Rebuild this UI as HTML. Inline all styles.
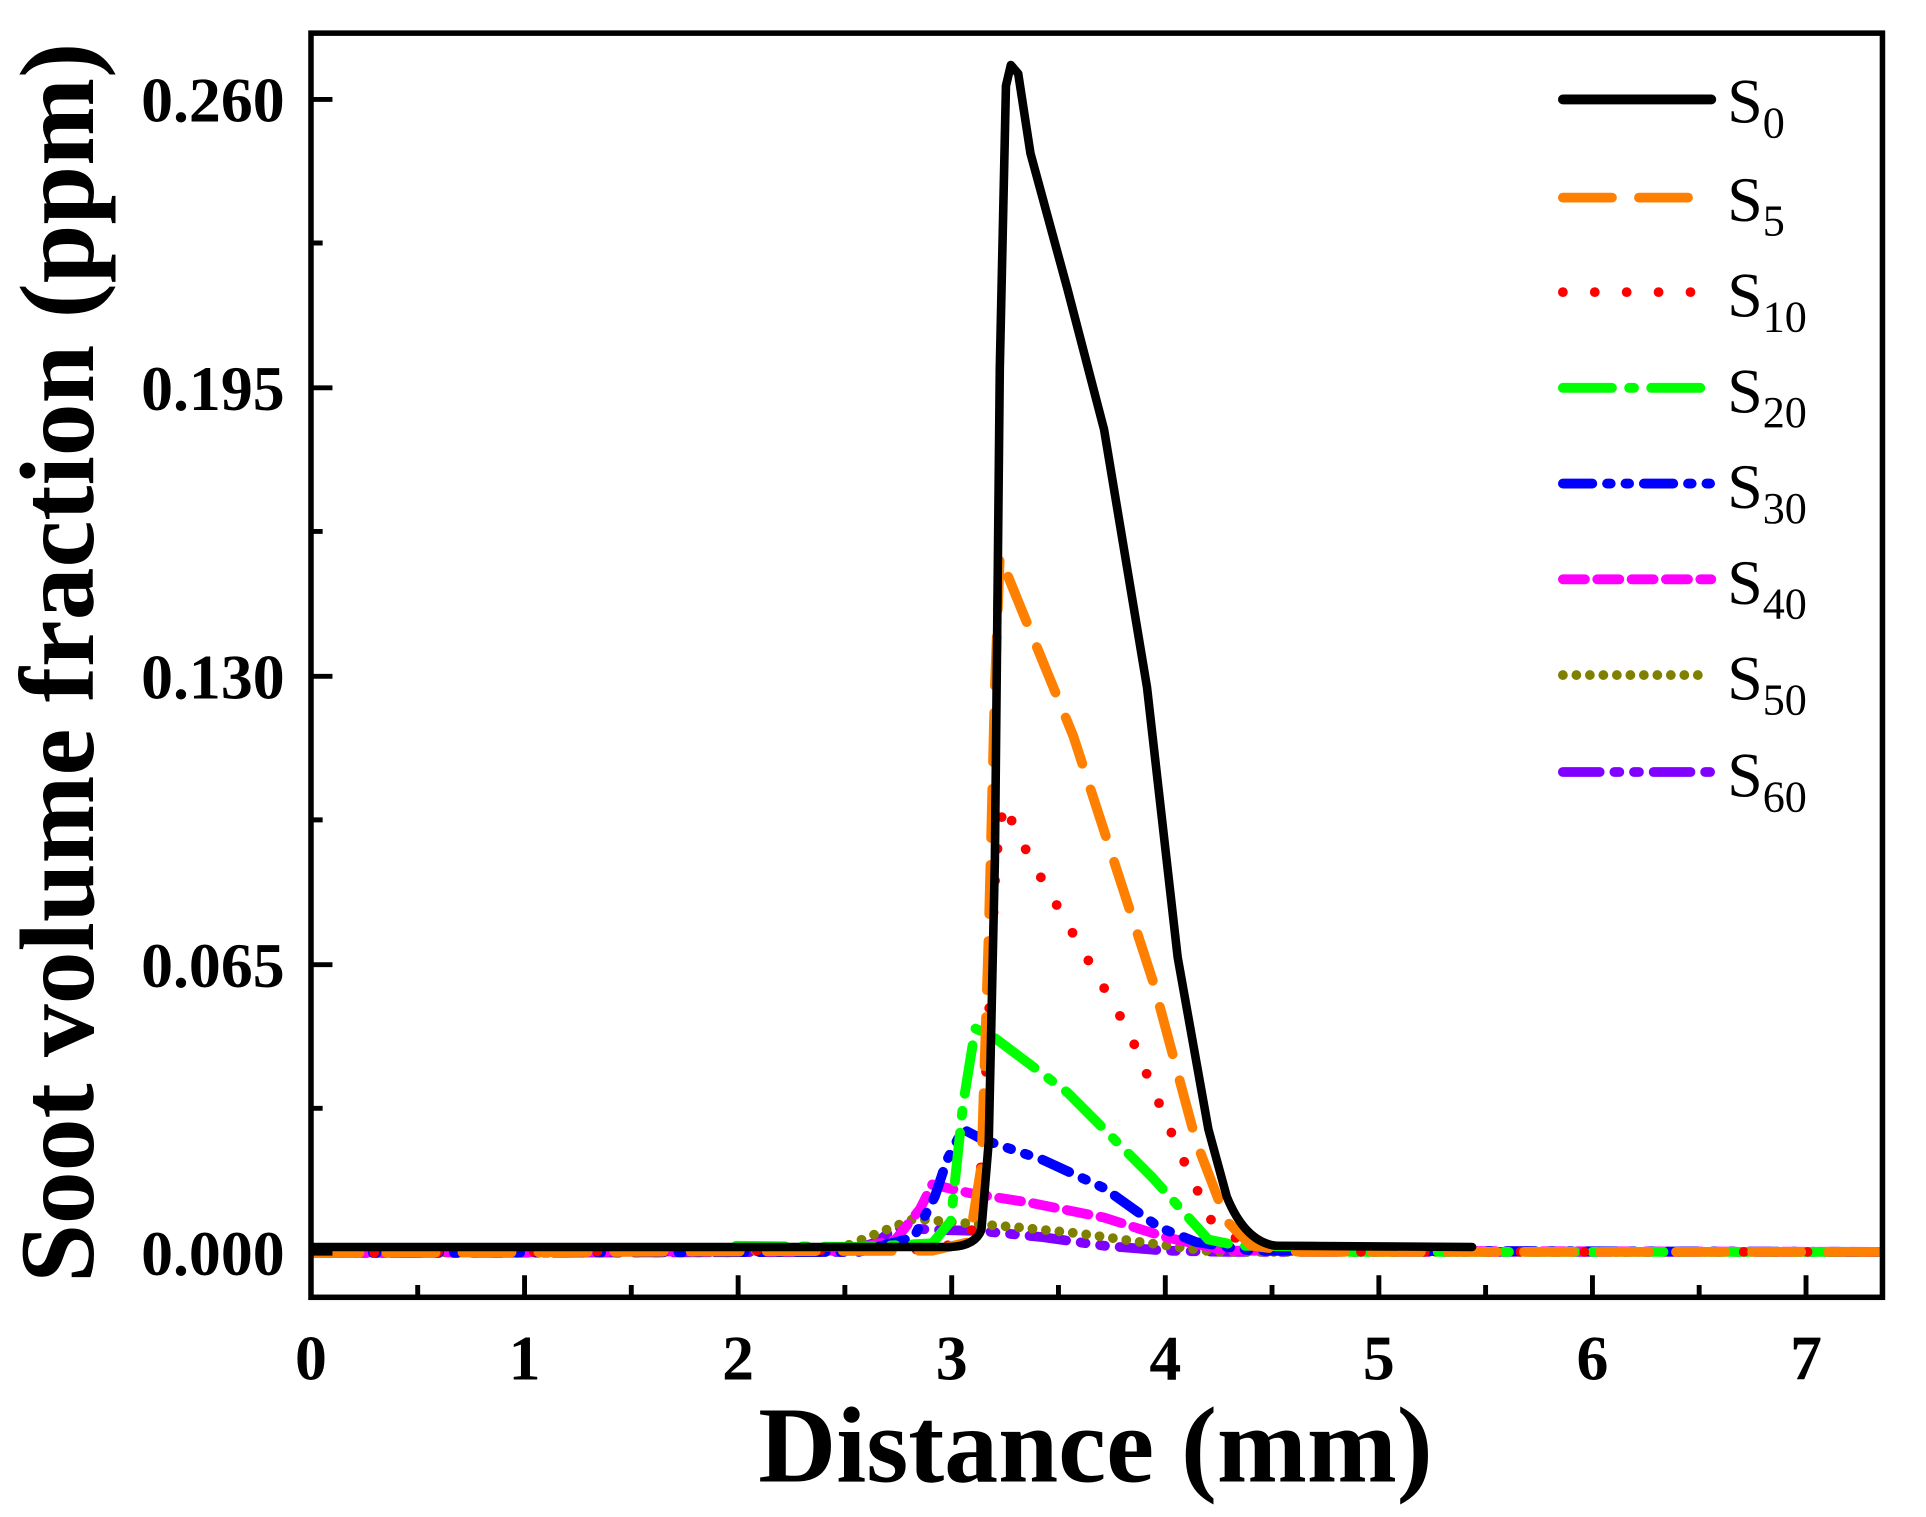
<!DOCTYPE html>
<html><head><meta charset="utf-8"><style>
html,body{margin:0;padding:0;background:#fff;}
svg{display:block;}
text{font-family:"Liberation Serif",serif;font-weight:bold;fill:#000;}
</style></head><body>
<svg width="1926" height="1517" viewBox="0 0 1570 1236" preserveAspectRatio="none" xmlns="http://www.w3.org/2000/svg">
<rect width="1570" height="1236" fill="#fff"/>
<defs><clipPath id="c"><rect x="253" y="27" width="1282" height="1032"/></clipPath></defs>
<g clip-path="url(#c)" fill="none" stroke-linecap="round" stroke-linejoin="round">
<path d="M253,1021 L690,1020 L715,1012 L730,1000 L760,1002 L800,1003 L850,1008 L900,1015 L950,1019 L1000,1020 L1535,1020" stroke="#8000ff" stroke-width="8" stroke-dasharray="30,12,4,12,4,12"/>
<path d="M253,1021 L680,1019 L715,1005 L745,993 L780,996 L830,1000 L880,1005 L930,1012 L990,1020 L1535,1020" stroke="#808000" stroke-width="8" stroke-dasharray="0,11"/>
<path d="M253,1021 L690,1019 L730,1010 L750,985 L760,965 L790,972 L840,980 L900,992 L950,1008 L1000,1019 L1535,1020" stroke="#ff00ff" stroke-width="8" stroke-dasharray="18,10"/>
<path d="M253,1021 L700,1020 L745,1008 L762,975 L772,945 L785,920 L800,928 L850,945 L900,968 L945,1000 L975,1012 L1020,1019 L1535,1020" stroke="#0000ff" stroke-width="8" stroke-dasharray="24,12,3,12,3,12"/>
<path d="M600,1015 L700,1016 L760,1013 L775,995 L785,900 L795,838 L810,845 L870,890 L940,960 L985,1010 L1010,1015 L1100,1016 M1100,1020 L1535,1020" stroke="#00ff00" stroke-width="8" stroke-dasharray="40,14,4,14"/>
<path d="M253,1021 L760,1018 L790,1010 L798,980 L805,850 L812,700 L818,655 L840,700 L880,770 L920,840 L960,935 L990,1000 L1020,1015 L1100,1020 L1535,1020" stroke="#ff0000" stroke-width="8" stroke-dasharray="0,26"/>
<path d="M253,1021 L760,1019 L790,1012 L800,950 L806,760 L811,560 L815,453 L830,490 L875,600 L940,800 L975,930 L1000,995 L1020,1015 L1060,1020 L1535,1020" stroke="#ff8000" stroke-width="8" stroke-dasharray="40,22"/>
<path d="M253,1016 L775,1016 Q795,1015 800,1002 L806,930 L811,700 L815,300 L820,70 L824,53 L830,60 L840,125 L870,235 L900,350 L935,560 L960,780 L985,920 L1000,975 Q1015,1012 1040,1015 L1200,1016" stroke="#000" stroke-width="7"/>
</g>
<rect x="253.5" y="27" width="1281" height="1030" fill="none" stroke="#000" stroke-width="4.5"/>
<g stroke="#000" stroke-width="4">
<path d="M253,1021h18M253,903h10M253,786h18M253,668h10M253,551h18M253,433h10M253,316h18M253,198h10M253,81h18"/>
<path d="M427.6,1057v-18M601.7,1057v-18M775.8,1057v-18M949.9,1057v-18M1124,1057v-18M1298.1,1057v-18M1472.2,1057v-18"/>
<path d="M340.5,1057v-10M514.6,1057v-10M688.7,1057v-10M862.8,1057v-10M1036.9,1057v-10M1211,1057v-10M1385.1,1057v-10"/>
</g>
<g font-size="52" text-anchor="end">
<text x="232" y="1039">0.000</text>
<text x="232" y="804">0.065</text>
<text x="232" y="569">0.130</text>
<text x="232" y="334">0.195</text>
<text x="232" y="99">0.260</text>
</g>
<g font-size="52" text-anchor="middle">
<text x="253.5" y="1124">0</text><text x="427.6" y="1124">1</text><text x="601.7" y="1124">2</text><text x="775.8" y="1124">3</text><text x="949.9" y="1124">4</text><text x="1124" y="1124">5</text><text x="1298.1" y="1124">6</text><text x="1472.2" y="1124">7</text>
</g>
<text x="893" y="1207" font-size="88" text-anchor="middle">Distance (mm)</text>
<text transform="translate(76,540) rotate(-90)" font-size="86" text-anchor="middle">Soot volume fraction (ppm)</text>
<g fill="none" stroke-width="8" stroke-linecap="round">
<path d="M1274,81H1395" stroke="#000"/>
<path d="M1274,161H1395" stroke="#ff8000" stroke-dasharray="40,22"/>
<path d="M1274,238H1395" stroke="#ff0000" stroke-dasharray="0,26"/>
<path d="M1274,316H1395" stroke="#00ff00" stroke-dasharray="40,14,4,14"/>
<path d="M1274,394H1395" stroke="#0000ff" stroke-dasharray="24,12,3,12,3,12"/>
<path d="M1274,472H1395" stroke="#ff00ff" stroke-dasharray="18,10"/>
<path d="M1274,550H1395" stroke="#808000" stroke-dasharray="0,11"/>
<path d="M1274,629H1395" stroke="#8000ff" stroke-dasharray="30,12,4,12,4,12"/>
</g>
<g font-size="52">
<text x="1408" y="100" style="font-weight:normal">S<tspan font-size="36" dy="12">0</tspan></text>
<text x="1408" y="180" style="font-weight:normal">S<tspan font-size="36" dy="12">5</tspan></text>
<text x="1408" y="258" style="font-weight:normal">S<tspan font-size="36" dy="12">10</tspan></text>
<text x="1408" y="336" style="font-weight:normal">S<tspan font-size="36" dy="12">20</tspan></text>
<text x="1408" y="414" style="font-weight:normal">S<tspan font-size="36" dy="12">30</tspan></text>
<text x="1408" y="492" style="font-weight:normal">S<tspan font-size="36" dy="12">40</tspan></text>
<text x="1408" y="570" style="font-weight:normal">S<tspan font-size="36" dy="12">50</tspan></text>
<text x="1408" y="649" style="font-weight:normal">S<tspan font-size="36" dy="12">60</tspan></text>
</g>
</svg>
</body></html>
